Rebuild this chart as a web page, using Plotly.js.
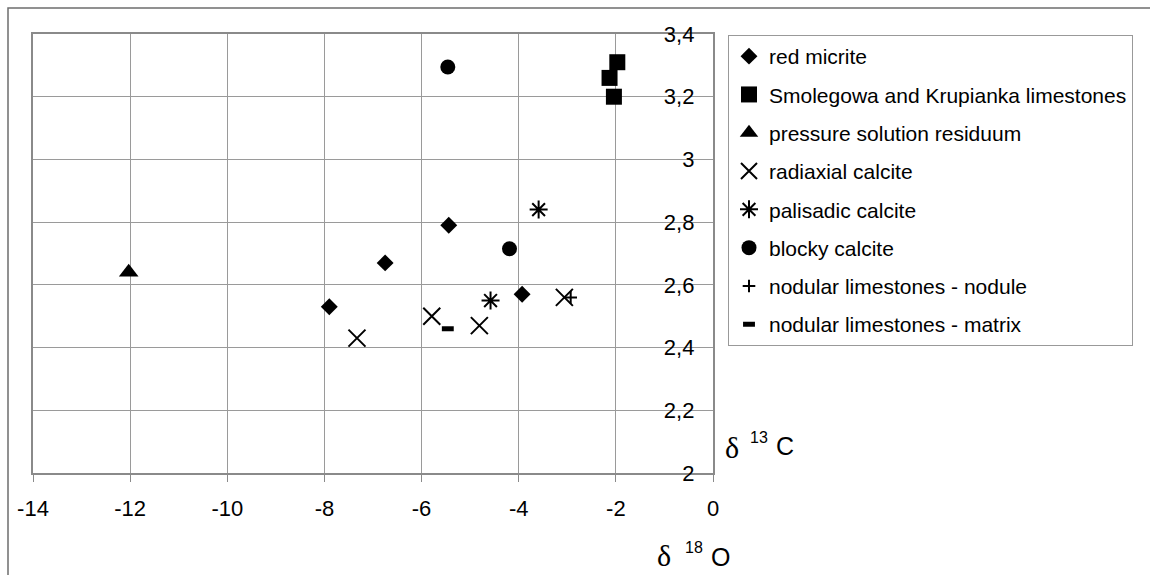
<!DOCTYPE html>
<html>
<head>
<meta charset="utf-8">
<script src="https://cdn.plot.ly/plotly-3.0.1.min.js"></script>
<style>html,body{margin:0;padding:0;background:#fff;}#chart{width:1150px;height:575px;}</style>
</head>
<body>
<div id="chart"></div>
<script>
// δ18O (x) and δ13C (y) per group
const redMicriteX = [-7.90, -6.75, -5.44, -3.93];
const redMicriteY = [2.53, 2.67, 2.79, 2.57];
const smolegowaX = [-1.97, -2.13, -2.04];
const smolegowaY = [3.31, 3.26, 3.20];
const residuumX = [-12.03];
const residuumY = [2.64];
const radiaxialX = [-7.33, -5.79, -4.81, -3.06];
const radiaxialY = [2.43, 2.50, 2.47, 2.56];
const palisadicX = [-3.59, -4.58];
const palisadicY = [2.84, 2.55];
const blockyX = [-5.46, -4.19];
const blockyY = [3.295, 2.715];
const noduleX = [-2.93];
const noduleY = [2.56];
const matrixX = [-5.46];
const matrixY = [2.46];

const names = ['red micrite', 'Smolegowa and Krupianka limestones', 'pressure solution residuum',
  'radiaxial calcite', 'palisadic calcite', 'blocky calcite',
  'nodular limestones - nodule', 'nodular limestones - matrix'];

const xTickVals = [-14, -12, -10, -8, -6, -4, -2, 0];
const xTickText = ['-14', '-12', '-10', '-8', '-6', '-4', '-2', '0'];
const yTickVals = [2, 2.2, 2.4, 2.6, 2.8, 3, 3.2, 3.4];
const yTickText = ['2', '2,2', '2,4', '2,6', '2,8', '3', '3,2', '3,4'];

function tr(x, y, name, marker, i) {
  return {x: x, y: y, name: name, type: 'scatter', mode: 'markers', marker: marker,
    legendgroup: 'g' + i, cliponaxis: false};
}
const data = [
  tr(redMicriteX, redMicriteY, names[0], {symbol: 'diamond', size: 13, color: '#000'}, 0),
  tr(smolegowaX, smolegowaY, names[1], {symbol: 'square', size: 16, color: '#000'}, 1),
  tr(residuumX, residuumY, names[2], {symbol: 'triangle-up', size: 17, color: '#000'}, 2),
  tr(radiaxialX, radiaxialY, names[3], {symbol: 'x-thin-open', size: 17, color: '#000', line: {color: '#000', width: 2}}, 3),
  tr(palisadicX, palisadicY, names[4], {symbol: 'asterisk-open', size: 15, color: '#000', line: {color: '#000', width: 2}}, 4),
  tr(blockyX, blockyY, names[5], {symbol: 'circle', size: 15, color: '#000'}, 5),
  tr(noduleX, noduleY, names[6], {symbol: 'cross-thin-open', size: 9, color: '#000', line: {color: '#000', width: 2}}, 6),
  tr(matrixX, matrixY, names[7], {symbol: 'line-ew-open', size: 8.5, color: '#000', line: {color: '#000', width: 5}}, 7)
];

const FONT = 'Liberation Sans, Arial, sans-serif';
const SERIF = 'Liberation Serif, Times New Roman, serif';
const M = {l: 33, r: 437, t: 34, b: 102};
const W = 1150, H = 575;
const pw = W - M.l - M.r, ph = H - M.t - M.b;
const px2x = p => (p - M.l) / pw;
const py2y = p => (H - M.b - p) / ph;

function lab(text, px, py, size, fam) {
  return {xref: 'paper', yref: 'paper', x: px2x(px), y: py2y(py), xanchor: 'center', yanchor: 'middle',
    text: text, showarrow: false, font: {size: size, family: fam, color: '#000'}};
}

const layout = {
  width: W, height: H,
  margin: M,
  paper_bgcolor: '#fff', plot_bgcolor: '#fff',
  font: {family: FONT, color: '#000', size: 21},
  showlegend: true,
  xaxis: {
    range: [-14, 0], tickvals: xTickVals, ticktext: xTickText, showgrid: true, gridcolor: '#9a9a9a', gridwidth: 1,
    zeroline: false, showline: true, linecolor: '#8a8a8a', linewidth: 2, mirror: true,
    ticks: 'outside', ticklen: 7, tickcolor: '#8a8a8a', tickwidth: 1,
    tickfont: {size: 22, family: FONT, color: '#000'}, ticklabelstandoff: 8
  },
  yaxis: {
    range: [2, 3.4], tickvals: yTickVals, ticktext: yTickText, side: 'right',
    ticklabelposition: 'inside', ticklabeloverflow: 'allow',
    showgrid: true, gridcolor: '#9a9a9a', gridwidth: 1,
    zeroline: false, showline: true, linecolor: '#8a8a8a', linewidth: 2, mirror: true,
    ticks: '', tickfont: {size: 22, family: FONT, color: '#000'}, ticklabelstandoff: 20
  },
  legend: {
    x: px2x(728), y: py2y(35), xanchor: 'left', yanchor: 'top',
    bordercolor: '#999', borderwidth: 1, bgcolor: '#fff',
    font: {size: 21, family: FONT, color: '#000'},
    traceorder: 'grouped', tracegroupgap: 8
  },
  annotations: [
    lab('δ', 732, 447, 30, SERIF),
    lab('13', 759, 437.5, 16, FONT),
    lab('C', 785, 446, 25, FONT),
    lab('δ', 664, 555, 30, SERIF),
    lab('18', 694, 547.5, 16, FONT),
    lab('O', 720.5, 556.5, 25, FONT)
  ],
  shapes: [
    {type: 'rect', xref: 'paper', yref: 'paper', x0: px2x(8), x1: px2x(1200), y0: py2y(620), y1: py2y(8),
     line: {color: '#6e6e6e', width: 1.5}, fillcolor: 'rgba(0,0,0,0)', layer: 'below'}
  ]
};
Plotly.newPlot('chart', data, layout, {displayModeBar: false, staticPlot: true});
</script>
</body>
</html>
